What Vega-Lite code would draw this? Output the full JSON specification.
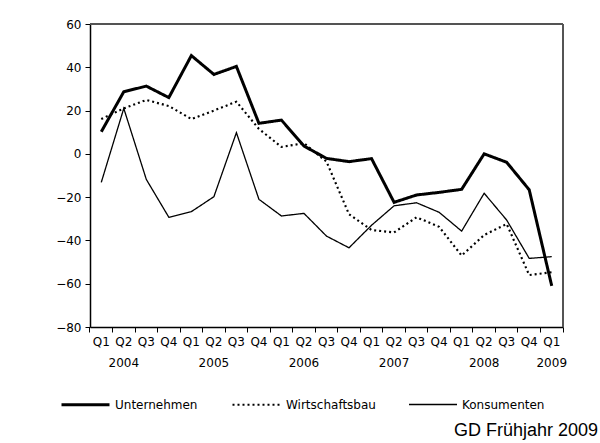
{
  "$schema": "https://vega.github.io/schema/vega-lite/v6.json",
  "autosize": {"type": "none"},
  "padding": {"left": 90, "top": 24, "right": 37, "bottom": 116},
  "width": 473,
  "height": 303,
  "background": "white",
  "config": {
    "font": "DejaVu Sans",
    "view": {"stroke": null},
    "axis": {"labelFont": "DejaVu Sans", "labelFontSize": 12, "labelColor": "black", "domainColor": "black", "tickColor": "black", "grid": false, "title": null}
  },
  "title": {"text": "GD Frühjahr 2009", "orient": "bottom", "anchor": "end", "frame": "group", "font": "Liberation Sans", "fontSize": 18, "fontWeight": "normal", "color": "black", "dx": 35, "offset": 11},
  "data": {"values": [
    {"q": "Q1|2004", "series": "Unternehmen", "v": 10.2},
    {"q": "Q2|2004", "series": "Unternehmen", "v": 28.7},
    {"q": "Q3|2004", "series": "Unternehmen", "v": 31.3},
    {"q": "Q4|2004", "series": "Unternehmen", "v": 26},
    {"q": "Q1|2005", "series": "Unternehmen", "v": 45.4},
    {"q": "Q2|2005", "series": "Unternehmen", "v": 36.7},
    {"q": "Q3|2005", "series": "Unternehmen", "v": 40.4},
    {"q": "Q4|2005", "series": "Unternehmen", "v": 14.1},
    {"q": "Q1|2006", "series": "Unternehmen", "v": 15.6},
    {"q": "Q2|2006", "series": "Unternehmen", "v": 3.6},
    {"q": "Q3|2006", "series": "Unternehmen", "v": -2.1},
    {"q": "Q4|2006", "series": "Unternehmen", "v": -3.6},
    {"q": "Q1|2007", "series": "Unternehmen", "v": -2.2},
    {"q": "Q2|2007", "series": "Unternehmen", "v": -22.4},
    {"q": "Q3|2007", "series": "Unternehmen", "v": -19},
    {"q": "Q4|2007", "series": "Unternehmen", "v": -17.8},
    {"q": "Q1|2008", "series": "Unternehmen", "v": -16.4},
    {"q": "Q2|2008", "series": "Unternehmen", "v": 0},
    {"q": "Q3|2008", "series": "Unternehmen", "v": -3.9},
    {"q": "Q4|2008", "series": "Unternehmen", "v": -16.6},
    {"q": "Q1|2009", "series": "Unternehmen", "v": -61},
    {"q": "Q1|2004", "series": "Wirtschaftsbau", "v": 16.1},
    {"q": "Q2|2004", "series": "Wirtschaftsbau", "v": 21},
    {"q": "Q3|2004", "series": "Wirtschaftsbau", "v": 24.9},
    {"q": "Q4|2004", "series": "Wirtschaftsbau", "v": 22.1},
    {"q": "Q1|2005", "series": "Wirtschaftsbau", "v": 16.1},
    {"q": "Q2|2005", "series": "Wirtschaftsbau", "v": 20},
    {"q": "Q3|2005", "series": "Wirtschaftsbau", "v": 24.1},
    {"q": "Q4|2005", "series": "Wirtschaftsbau", "v": 11.5},
    {"q": "Q1|2006", "series": "Wirtschaftsbau", "v": 3.2},
    {"q": "Q2|2006", "series": "Wirtschaftsbau", "v": 4.9},
    {"q": "Q3|2006", "series": "Wirtschaftsbau", "v": -3.6},
    {"q": "Q4|2006", "series": "Wirtschaftsbau", "v": -27.9},
    {"q": "Q1|2007", "series": "Wirtschaftsbau", "v": -35.2},
    {"q": "Q2|2007", "series": "Wirtschaftsbau", "v": -36.3},
    {"q": "Q3|2007", "series": "Wirtschaftsbau", "v": -29.3},
    {"q": "Q4|2007", "series": "Wirtschaftsbau", "v": -33.7},
    {"q": "Q1|2008", "series": "Wirtschaftsbau", "v": -47},
    {"q": "Q2|2008", "series": "Wirtschaftsbau", "v": -37.5},
    {"q": "Q3|2008", "series": "Wirtschaftsbau", "v": -32.4},
    {"q": "Q4|2008", "series": "Wirtschaftsbau", "v": -56},
    {"q": "Q1|2009", "series": "Wirtschaftsbau", "v": -54.7},
    {"q": "Q1|2004", "series": "Konsumenten", "v": -13.2},
    {"q": "Q2|2004", "series": "Konsumenten", "v": 21},
    {"q": "Q3|2004", "series": "Konsumenten", "v": -11.8},
    {"q": "Q4|2004", "series": "Konsumenten", "v": -29.3},
    {"q": "Q1|2005", "series": "Konsumenten", "v": -26.7},
    {"q": "Q2|2005", "series": "Konsumenten", "v": -19.8},
    {"q": "Q3|2005", "series": "Konsumenten", "v": 9.8},
    {"q": "Q4|2005", "series": "Konsumenten", "v": -21},
    {"q": "Q1|2006", "series": "Konsumenten", "v": -28.7},
    {"q": "Q2|2006", "series": "Konsumenten", "v": -27.5},
    {"q": "Q3|2006", "series": "Konsumenten", "v": -38},
    {"q": "Q4|2006", "series": "Konsumenten", "v": -43.4},
    {"q": "Q1|2007", "series": "Konsumenten", "v": -33},
    {"q": "Q2|2007", "series": "Konsumenten", "v": -24},
    {"q": "Q3|2007", "series": "Konsumenten", "v": -22.6},
    {"q": "Q4|2007", "series": "Konsumenten", "v": -27},
    {"q": "Q1|2008", "series": "Konsumenten", "v": -35.7},
    {"q": "Q2|2008", "series": "Konsumenten", "v": -18.2},
    {"q": "Q3|2008", "series": "Konsumenten", "v": -30.6},
    {"q": "Q4|2008", "series": "Konsumenten", "v": -48.3},
    {"q": "Q1|2009", "series": "Konsumenten", "v": -47.5}
  ]},
  "layer": [
    {
      "mark": {"type": "rule", "color": "#555555", "strokeWidth": 1.2},
      "encoding": {"y": {"datum": 60, "type": "quantitative"}}
    },
    {
      "mark": {"type": "rule", "color": "#555555", "strokeWidth": 1.2},
      "encoding": {"x": {"datum": "Q1|2009", "type": "nominal", "bandPosition": 1}}
    },
    {
      "mark": {"type": "line", "color": "black", "strokeCap": "butt", "strokeJoin": "miter"},
      "encoding": {
        "x": {"field": "q", "type": "nominal", "bandPosition": 0.5},
        "y": {"field": "v", "type": "quantitative"},
        "strokeDash": {
          "field": "series", "type": "nominal", "sort": ["Unternehmen", "Wirtschaftsbau", "Konsumenten"],
          "scale": {"domain": ["Unternehmen", "Wirtschaftsbau", "Konsumenten"], "range": [[1, 0], [2, 3], [1, 0]]},
          "legend": {
            "orient": "none", "legendX": -30, "legendY": 355, "direction": "horizontal", "title": null,
            "symbolType": "stroke", "symbolSize": 2304, "symbolStrokeColor": "black",
            "labelFont": "DejaVu Sans", "labelFontSize": 12, "labelColor": "black", "labelOffset": 4, "columnPadding": 30
          }
        },
        "strokeWidth": {
          "field": "series", "type": "nominal", "sort": ["Unternehmen", "Wirtschaftsbau", "Konsumenten"],
          "scale": {"domain": ["Unternehmen", "Wirtschaftsbau", "Konsumenten"], "range": [3, 1.3, 1]},
          "legend": {
            "orient": "none", "legendX": -30, "legendY": 355, "direction": "horizontal", "title": null,
            "symbolType": "stroke", "symbolSize": 2304, "symbolStrokeColor": "black",
            "labelFont": "DejaVu Sans", "labelFontSize": 12, "labelColor": "black", "labelOffset": 4, "columnPadding": 30
          }
        }
      }
    }
  ],
  "encoding": {
    "x": {
      "type": "nominal",
      "scale": {"type": "band", "paddingInner": 0, "paddingOuter": 0,
        "domain": ["Q1|2004", "Q2|2004", "Q3|2004", "Q4|2004", "Q1|2005", "Q2|2005", "Q3|2005", "Q4|2005", "Q1|2006", "Q2|2006", "Q3|2006", "Q4|2006", "Q1|2007", "Q2|2007", "Q3|2007", "Q4|2007", "Q1|2008", "Q2|2008", "Q3|2008", "Q4|2008", "Q1|2009"]},
      "axis": {
        "labelAngle": 0, "labelOverlap": false, "labelBound": false, "labelFlush": false,
        "bandPosition": 1, "tickExtra": true, "tickSize": 5, "labelPadding": 4,
        "domainWidth": 1.5, "labelLineHeight": 21,
        "labelExpr": "!isString(datum.value) ? '' : ((split(datum.value,'|')[0]=='Q2' || datum.value=='Q1|2009') ? split(datum.value,'|') : split(datum.value,'|')[0])"
      }
    },
    "y": {
      "type": "quantitative",
      "scale": {"domain": [-80, 60], "nice": false, "zero": false},
      "axis": {"values": [-80, -60, -40, -20, 0, 20, 40, 60], "tickSize": 5, "labelPadding": 4, "domainWidth": 1.5}
    }
  }
}
